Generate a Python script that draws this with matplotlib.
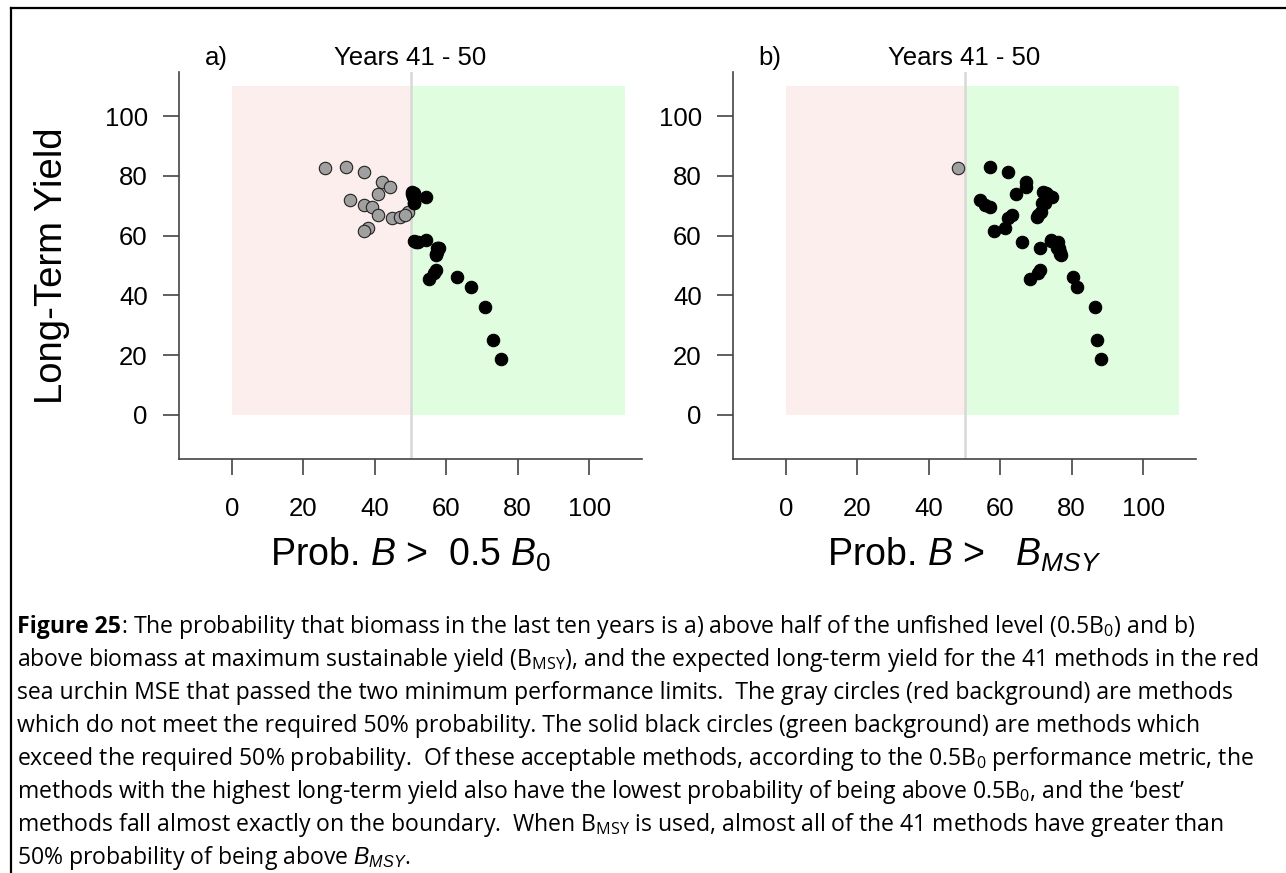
import numpy as np
import matplotlib
matplotlib.use('Agg')
import matplotlib.pyplot as plt
from matplotlib.lines import Line2D

plt.rcParams['font.family'] = ['Liberation Sans', 'DejaVu Sans']
plt.rcParams['mathtext.fontset'] = 'custom'
plt.rcParams['mathtext.rm'] = 'Liberation Sans'
plt.rcParams['mathtext.it'] = 'Liberation Sans:italic'

# long-term yield and probabilities for the 41 methods
yield_lt = [82.5, 83.0, 81.3, 77.9, 76.2, 73.8, 71.9, 70.2, 69.7, 66.8,
            65.8, 66.3, 68.0, 62.5, 61.6, 74.7, 74.4, 72.8, 71.0, 72.8,
            58.3, 58.0, 58.5, 55.7, 55.7, 53.5, 48.5, 45.5, 46.0, 42.9,
            36.0, 24.9, 18.8, 74.0, 67.0, 57.8, 54.5, 56.0, 47.5, 70.8, 53.8]
prob_b0 = [26.0, 31.9, 37.0, 42.0, 44.2, 40.9, 33.1, 37.0, 39.2, 40.9,
           44.9, 47.1, 49.2, 38.1, 37.0, 50.3, 51.1, 50.7, 50.9, 54.2,
           50.9, 52.2, 54.2, 57.4, 58.1, 57.1, 57.1, 55.2, 63.0, 66.9,
           70.9, 73.1, 75.3, 50.5, 48.5, 51.5, 57.3, 57.8, 56.5, 51.0, 57.0]
prob_bmsy = [48.2, 57.1, 62.1, 67.2, 67.2, 64.3, 54.3, 55.7, 57.1, 63.4,
             62.3, 70.2, 71.4, 61.2, 58.3, 72.1, 72.8, 74.5, 72.4, 73.6,
             74.3, 66.1, 74.3, 71.1, 76.5, 77.0, 71.1, 68.3, 80.3, 81.4,
             86.5, 87.2, 88.1, 73.2, 70.7, 76.2, 76.8, 75.9, 70.5, 71.8, 76.6]
threshold = 50
ticks = [0, 20, 40, 60, 80, 100]

fig = plt.figure(figsize=(12.86, 8.73), dpi=100)

panels = [('a)', prob_b0, 'Prob. $B$ >  0.5 $B_0$', 179),
          ('b)', prob_bmsy, 'Prob. $B$ >   $B_{MSY}$', 733)]

y = np.array(yield_lt)
for tag, px, xlab, left in panels:
    ax = fig.add_axes([left / 1286, 1 - 459 / 873, 463 / 1286, 387 / 873])
    ax.set_xlim(-14.8, 114.8)
    ax.set_ylim(-14.8, 114.8)
    ax.axvspan(0, threshold, ymin=(0 + 14.8) / 129.6, ymax=(110 + 14.8) / 129.6,
               color='#fdeeee', lw=0, zorder=0)
    ax.axvspan(threshold, 110, ymin=(0 + 14.8) / 129.6, ymax=(110 + 14.8) / 129.6,
               color='#e0fde0', lw=0, zorder=0)
    ax.axvline(threshold, color='#d8d8d8', lw=1.8, zorder=1)
    px = np.array(px)
    low = px < threshold
    ax.scatter(px[low], y[low], s=80, c='#a0a0a0', edgecolors='#222222',
               linewidths=0.8, zorder=3)
    ax.scatter(px[~low], y[~low], s=80, c='black', edgecolors='black',
               linewidths=0.8, zorder=3)
    for s in ['top', 'right']:
        ax.spines[s].set_visible(False)
    for s in ['left', 'bottom']:
        ax.spines[s].set_color('#444444')
        ax.spines[s].set_linewidth(1.2)
    ax.set_xticks(ticks)
    ax.set_yticks(ticks)
    ax.tick_params(length=11.5, width=1.2, color='#444444', labelsize=18.5)
    ax.tick_params(axis='y', pad=11)
    ax.tick_params(axis='x', pad=16)
    ax.text(0.055, 1.036, tag, transform=ax.transAxes, fontsize=18.5, ha='left', va='center')
    ax.text(0.5, 1.036, 'Years 41 - 50', transform=ax.transAxes, fontsize=18.5,
            ha='center', va='center')
    fig.text((left + 231.5) / 1286, 1 - 555 / 873, xlab, fontsize=27,
             ha='center', va='center')
    if tag == 'a)':
        ax.set_ylabel('Long-Term Yield', fontsize=27.5)
        ax.yaxis.set_label_coords(-0.235, 0.5)

# frame around the figure
fig.add_artist(Line2D([11 / 1286, 1], [1 - 8 / 873, 1 - 8 / 873], color='black', lw=1.6))
fig.add_artist(Line2D([11 / 1286, 11 / 1286], [0, 1 - 8 / 873], color='black', lw=1.6))

# caption
cap_font = ['Open Sans', 'DejaVu Sans']
cap_size = 16.6
lines = [
    ': The probability that biomass in the last ten years is a) above half of the unfished level (0.5B$\\mathregular{_0}$) and b)',
    'above biomass at maximum sustainable yield (B$\\mathregular{_{MSY}}$), and the expected long-term yield for the 41 methods in the red',
    'sea urchin MSE that passed the two minimum performance limits.  The gray circles (red background) are methods',
    'which do not meet the required 50% probability. The solid black circles (green background) are methods which',
    'exceed the required 50% probability.  Of these acceptable methods, according to the 0.5B$\\mathregular{_0}$ performance metric, the',
    'methods with the highest long-term yield also have the lowest probability of being above 0.5B$\\mathregular{_0}$, and the \u2018best\u2019',
    'methods fall almost exactly on the boundary.  When B$\\mathregular{_{MSY}}$ is used, almost all of the 41 methods have greater than',
    '50% probability of being above $\\mathit{B_{MSY}}$.',
]
x0 = 17 / 1286
for i, line in enumerate(lines):
    yb = 1 - (633 + 33 * i) / 873
    if i == 0:
        t1 = fig.text(x0, yb, 'Figure 25', family=cap_font, fontsize=cap_size,
                      weight='bold', va='baseline')
        fig.add_artist(plt.Annotation(line, xy=(1, yb), xycoords=(t1, 'figure fraction'),
                                      family=cap_font, fontsize=cap_size, va='baseline'))
    else:
        fig.text(x0, yb, line, family=cap_font, fontsize=cap_size, va='baseline')

fig.savefig('out.png', dpi=100)
